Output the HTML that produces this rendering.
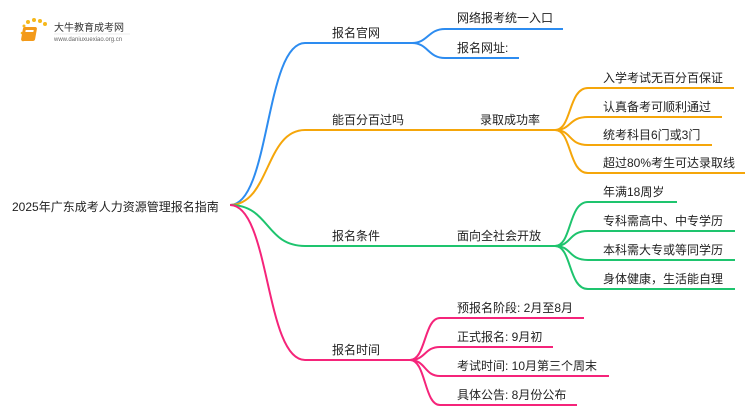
<!DOCTYPE html>
<html><head><meta charset="utf-8"><style>
html,body{margin:0;padding:0;background:#fff;width:750px;height:410px;overflow:hidden}
svg text{font-family:"Liberation Sans","Noto Sans CJK SC",sans-serif;font-size:12px;fill:#222}
</style></head><body>
<svg width="750" height="410" viewBox="0 0 750 410" xmlns="http://www.w3.org/2000/svg">
<g fill="#f5b81c"><circle cx="24" cy="26" r="1.5"/><circle cx="28" cy="22" r="2"/><circle cx="34" cy="20" r="2"/><circle cx="40" cy="21" r="2"/><circle cx="45" cy="24" r="2"/><circle cx="22" cy="33" r="1.3"/><circle cx="23" cy="40" r="1.3"/></g>
<rect x="28" y="27" width="14" height="14" rx="2" fill="#f39a1a" transform="skewX(-10)"/>
<rect x="31" y="30" width="8" height="2" fill="#fff" transform="skewX(-10)"/>
<text x="54" y="31" style="font-size:10px;fill:#333">大牛教育成考网</text>
<text x="54" y="41" style="font-size:6px;fill:#666">www.daniuxuexiao.org.cn</text>
<line x1="54" y1="34" x2="130" y2="34" stroke="#ddd" stroke-width="0.6"/>
<g fill="none" stroke-width="2">
<path d="M230 205 C270 205 265 43 305 43 H412" stroke="#2d8cf0"/>
<path d="M412 43 C428 43 428 29 445 29 H563" stroke="#2d8cf0"/>
<path d="M412 43 C428 43 428 58 445 58 H519" stroke="#2d8cf0"/>
<path d="M230 205 C270 205 265 130 305 130 H555" stroke="#f5a60a"/>
<path d="M555 130 C572 130 568 88 588 88 H734" stroke="#f5a60a"/>
<path d="M555 130 C572 130 568 117 588 117 H722" stroke="#f5a60a"/>
<path d="M555 130 C572 130 568 145 588 145 H712" stroke="#f5a60a"/>
<path d="M555 130 C572 130 568 173 588 173 H745" stroke="#f5a60a"/>
<path d="M230 205 C270 205 265 246 305 246 H555" stroke="#1ec46e"/>
<path d="M555 246 C572 246 568 202 588 202 H677" stroke="#1ec46e"/>
<path d="M555 246 C572 246 568 231 588 231 H735" stroke="#1ec46e"/>
<path d="M555 246 C572 246 568 260 588 260 H735" stroke="#1ec46e"/>
<path d="M555 246 C572 246 568 289 588 289 H735" stroke="#1ec46e"/>
<path d="M230 205 C270 205 265 360 305 360 H410" stroke="#f5247a"/>
<path d="M410 360 C426 360 424 318 440 318 H584" stroke="#f5247a"/>
<path d="M410 360 C426 360 424 347 440 347 H553" stroke="#f5247a"/>
<path d="M410 360 C426 360 424 376 440 376 H609" stroke="#f5247a"/>
<path d="M410 360 C426 360 424 405 440 405 H577" stroke="#f5247a"/>
</g>
<text x="12" y="211">2025年广东成考人力资源管理报名指南</text>
<text x="332" y="37">报名官网</text>
<text x="457" y="22">网络报考统一入口</text>
<text x="457" y="52">报名网址:</text>
<text x="332" y="124">能百分百过吗</text>
<text x="480" y="124">录取成功率</text>
<text x="603" y="82">入学考试无百分百保证</text>
<text x="603" y="111">认真备考可顺利通过</text>
<text x="603" y="139">统考科目6门或3门</text>
<text x="603" y="167">超过80%考生可达录取线</text>
<text x="332" y="240">报名条件</text>
<text x="457" y="240">面向全社会开放</text>
<text x="603" y="196">年满18周岁</text>
<text x="603" y="225">专科需高中、中专学历</text>
<text x="603" y="254">本科需大专或等同学历</text>
<text x="603" y="283">身体健康，生活能自理</text>
<text x="332" y="354">报名时间</text>
<text x="457" y="312">预报名阶段: 2月至8月</text>
<text x="457" y="341">正式报名: 9月初</text>
<text x="457" y="370">考试时间: 10月第三个周末</text>
<text x="457" y="399">具体公告: 8月份公布</text>
</svg>
</body></html>
